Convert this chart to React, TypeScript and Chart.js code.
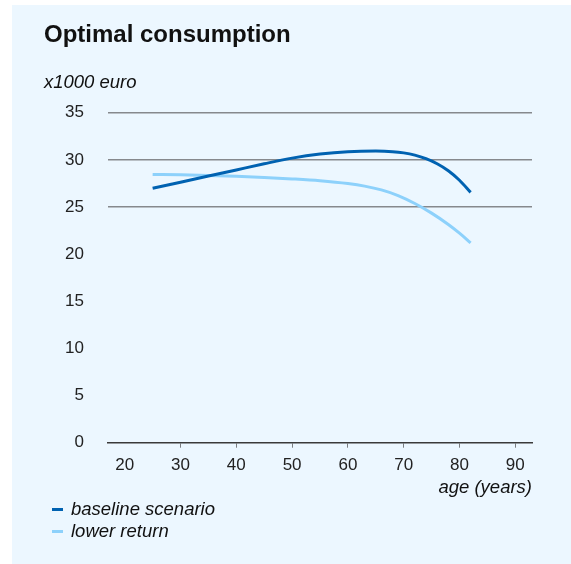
import React, { useEffect, useRef } from "react";
import { Chart, registerables } from "chart.js";

Chart.register(...registerables);

const FONT = "'Liberation Sans', Arial, Helvetica, sans-serif";

const baselineAges = [25, 30, 35, 40, 45, 50, 55, 60, 65, 68, 70, 72, 74, 76, 78, 80, 82];
const baseline = [26.98, 27.63, 28.28, 28.93, 29.58, 30.18, 30.61, 30.86, 30.93, 30.87, 30.74, 30.5, 30.12, 29.58, 28.84, 27.84, 26.55];
const lowerAges = [25, 30, 35, 40, 45, 50, 55, 60, 63, 66, 69, 72, 75, 78, 80, 82];
const lowerReturn = [28.45, 28.41, 28.35, 28.26, 28.14, 27.98, 27.78, 27.48, 27.21, 26.81, 26.21, 25.37, 24.35, 23.15, 22.23, 21.2];
const xTicks = [20, 30, 40, 50, 60, 70, 80, 90];
const yTicks = [0, 5, 10, 15, 20, 25, 30, 35];
const seriesNames = ["baseline scenario", "lower return"];
const seriesColors = ["#0062b1", "#8dd1fb"];
const titleText = "Optimal consumption";
const unitText = "x1000 euro";
const xTitleText = "age (years)";

export default function App() {
  const canvasRef = useRef<HTMLCanvasElement | null>(null);

  useEffect(() => {
    const canvas = canvasRef.current;
    if (!canvas) return;
    const series = [
      { ages: baselineAges, vals: baseline },
      { ages: lowerAges, vals: lowerReturn },
    ];
    const chart = new Chart(canvas, {
      type: "line",
      data: {
        datasets: series.map((s, i) => ({
          label: seriesNames[i],
          data: s.ages.map((a, j) => ({ x: a, y: s.vals[j] })),
          borderColor: seriesColors[i],
          backgroundColor: seriesColors[i],
          borderWidth: 3,
          pointRadius: 0,
          cubicInterpolationMode: "monotone" as const,
          fill: false,
        })),
      },
      options: {
        responsive: false,
        animation: false,
        layout: { padding: { left: 44, right: 39, top: 0, bottom: 65.5 } },
        plugins: {
          legend: { display: false },
          tooltip: { enabled: false },
          title: {
            display: true,
            text: titleText,
            align: "start",
            color: "#111",
            font: { family: FONT, size: 24, weight: "bold" },
            padding: { top: 20.5, bottom: 0 },
          },
          subtitle: {
            display: true,
            text: unitText,
            align: "start",
            color: "#111",
            font: { family: FONT, size: 18.5, style: "italic" },
            padding: { top: 22, bottom: 19.2 },
          },
        },
        scales: {
          x: {
            type: "linear",
            min: 17,
            max: 93,
            afterBuildTicks: (scale: any) => {
              scale.ticks = xTicks.map((v) => ({ value: v }));
            },
            afterFit: (scale: any) => {
              scale.height = 55.8;
            },
            title: {
              display: true,
              text: xTitleText,
              align: "end",
              color: "#111",
              font: { family: FONT, size: 18.5, style: "italic" },
              padding: { top: 0, bottom: 0 },
            },
            ticks: {
              color: "#222",
              font: { family: FONT, size: 17 },
              padding: 7.4,
              maxRotation: 0,
              autoSkip: false,
              callback: (v: any) => String(v),
            },
            grid: {
              drawOnChartArea: false,
              drawTicks: true,
              tickLength: 5,
              lineWidth: 1,
              color: (ctx: any) => (ctx.tick && ctx.tick.value === 20 ? "rgba(0,0,0,0)" : "#7a7d80"),
            },
            border: { display: true, color: "#3a3a3a", width: 1.5 },
          },
          y: {
            min: 0,
            max: 35,
            afterBuildTicks: (scale: any) => {
              scale.ticks = yTicks.map((v) => ({ value: v }));
            },
            afterFit: (scale: any) => {
              scale.width = 64;
            },
            ticks: {
              color: "#222",
              font: { family: FONT, size: 17 },
              padding: 24,
              callback: (v: any) => String(v),
            },
            grid: {
              drawTicks: false,
              lineWidth: 1.5,
              color: (ctx: any) =>
                ctx.tick && ctx.tick.value >= 25 ? "#86898d" : "rgba(0,0,0,0)",
            },
            border: { display: false },
          },
        },
      },
    });
    return () => chart.destroy();
  }, []);

  return (
    <div style={{ position: "fixed", left: 0, top: 0, width: 571, height: 564, background: "#ffffff" }}>
      <div
        style={{
          position: "absolute",
          left: 12,
          top: 5,
          width: 559,
          height: 559,
          background: "#ecf7ff",
        }}
      />
      <canvas
        ref={canvasRef}
        width={571}
        height={564}
        style={{ position: "absolute", left: 0, top: 0, width: 571, height: 564 }}
      />
      <div style={{ position: "absolute", left: 52, top: 498, fontFamily: FONT, fontSize: 18.5, fontStyle: "italic", color: "#111" }}>
        {seriesNames.map((name, i) => (
          <div key={name} style={{ position: "relative", height: 22, lineHeight: "22px", whiteSpace: "nowrap" }}>
            <span
              style={{
                position: "absolute",
                left: 0,
                top: 9.8,
                width: 11,
                height: 3,
                background: seriesColors[i],
              }}
            />
            <span style={{ position: "absolute", left: 19, top: 0 }}>{name}</span>
          </div>
        ))}
      </div>
    </div>
  );
}
